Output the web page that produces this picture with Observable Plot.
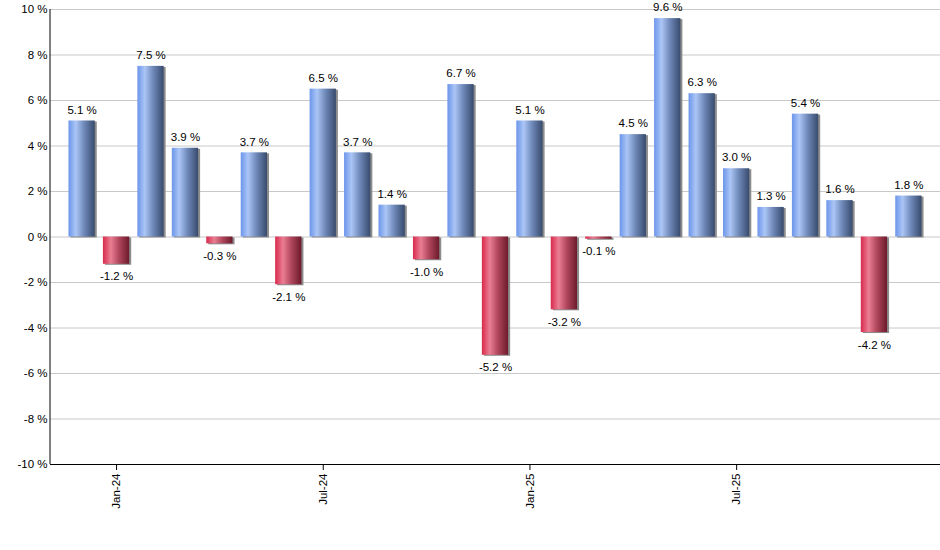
<!DOCTYPE html>
<html><head><meta charset="utf-8">
<script src="https://cdn.jsdelivr.net/npm/d3@7"></script>
<script src="https://cdn.jsdelivr.net/npm/@observablehq/plot@0.6"></script>
<style>body{margin:0;background:#fff} svg{display:block}</style>
</head><body><div id="chart"></div>
<script>
const months = ["Dec-23","Jan-24","Feb-24","Mar-24","Apr-24","May-24","Jun-24","Jul-24","Aug-24","Sep-24","Oct-24","Nov-24","Dec-24","Jan-25","Feb-25","Mar-25","Apr-25","May-25","Jun-25","Jul-25","Aug-25","Sep-25","Oct-25","Nov-25","Dec-25"];
const returns = [5.1,-1.2,7.5,3.9,-0.3,3.7,-2.1,6.5,3.7,1.4,-1.0,6.7,-5.2,5.1,-3.2,-0.1,4.5,9.6,6.3,3.0,1.3,5.4,1.6,-4.2,1.8];
const xTickLabels = ["Jan-24","Jul-24","Jan-25","Jul-25"];
const yTicks = [-10,-8,-6,-4,-2,0,2,4,6,8,10];

const data = months.map((m, i) => ({month: m, value: returns[i]}));
const pos = data.filter(d => d.value >= 0);
const neg = data.filter(d => d.value < 0);
const NS = "http://www.w3.org/2000/svg";

function gradients() {
  const defs = document.createElementNS(NS, "defs");
  defs.innerHTML = `
    <linearGradient id="gBlue" x1="0" x2="1" y1="0" y2="0">
      <stop offset="0" stop-color="#6c95ea"/>
      <stop offset="0.28" stop-color="#abc6f6"/>
      <stop offset="0.6" stop-color="#6e88b8"/>
      <stop offset="1" stop-color="#384b6d"/>
    </linearGradient>
    <linearGradient id="gRed" x1="0" x2="1" y1="0" y2="0">
      <stop offset="0" stop-color="#d82a4c"/>
      <stop offset="0.3" stop-color="#ea7e93"/>
      <stop offset="0.6" stop-color="#b2485e"/>
      <stop offset="1" stop-color="#6c1a2b"/>
    </linearGradient>`;
  return defs;
}

function yAxisLine(index, scales, values, dims) {
  const line = document.createElementNS(NS, "line");
  const x = dims.marginLeft;
  line.setAttribute("x1", x); line.setAttribute("x2", x);
  line.setAttribute("y1", scales.y(10)); line.setAttribute("y2", scales.y(-10));
  line.setAttribute("stroke", "#000");
  return line;
}

const fmt = v => v.toFixed(1) + " %";

const chart = Plot.plot({
  width: 940,
  height: 550,
  marginLeft: 50,
  marginRight: 0,
  marginTop: 9,
  marginBottom: 86,
  style: {fontFamily: "'Liberation Sans', Arial, sans-serif", fontSize: "11.5px", color: "#000", background: "#fff"},
  x: {domain: months, paddingInner: 0.237, paddingOuter: 0.536, round: false, label: null},
  y: {domain: [-10, 10], label: null},
  marks: [
    gradients,
    Plot.gridY(yTicks, {stroke: "#c8c8c8", strokeOpacity: 1}),
    Plot.barY(data, {x: "month", y: "value", fill: "#8c8c8c", dx: 2, dy: 1}),
    Plot.barY(pos, {x: "month", y: "value", fill: "url(#gBlue)"}),
    Plot.barY(neg, {x: "month", y: "value", fill: "url(#gRed)"}),
    Plot.text(pos, {x: "month", y: "value", text: d => fmt(d.value), lineAnchor: "middle", dy: -11, fill: "#000"}),
    Plot.text(neg, {x: "month", y: "value", text: d => fmt(d.value), lineAnchor: "middle", dy: 12.5, fill: "#000"}),
    Plot.axisY({ticks: yTicks, tickFormat: d => d + " %", tickSize: 0, tickPadding: 3, label: null}),
    Plot.axisX({ticks: xTickLabels, tickRotate: -90, tickSize: 6, tickPadding: 3, label: null}),
    Plot.ruleY([-10], {stroke: "#000"}),
    yAxisLine
  ]
});
document.getElementById("chart").appendChild(chart);
</script>
</body></html>
